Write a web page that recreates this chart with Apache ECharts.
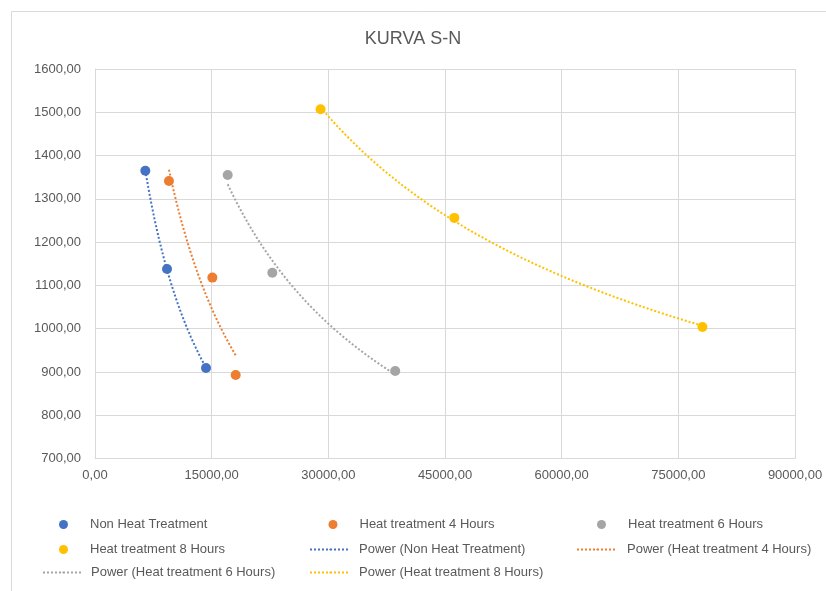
<!DOCTYPE html>
<html><head><meta charset="utf-8">
<script src="https://cdn.jsdelivr.net/npm/echarts@6/dist/echarts.min.js"></script>
<style>html,body{margin:0;padding:0;background:#fff}#c{width:826px;height:591px}</style>
</head><body><div id="c"></div>
<script>
// Data
const seriesNames = ['Non Heat Treatment','Heat treatment 4 Hours','Heat treatment 6 Hours','Heat treatment 8 Hours'];
const nonHeatX = [6470, 9260, 14270];
const nonHeatY = [1365, 1138, 909];
const heat4X = [9510, 15090, 18090];
const heat4Y = [1341, 1118, 893];
const heat6X = [17060, 22800, 38600];
const heat6Y = [1355, 1129, 902];
const heat8X = [29000, 46200, 78100];
const heat8Y = [1507, 1256, 1004];
const xTicks = [0, 15000, 30000, 45000, 60000, 75000, 90000];
const yTicks = [700, 800, 900, 1000, 1100, 1200, 1300, 1400, 1500, 1600];
const colors = ['#4472C4','#ED7D31','#A5A5A5','#FFC000'];

const allX = [nonHeatX, heat4X, heat6X, heat8X];
const allY = [nonHeatY, heat4Y, heat6Y, heat8Y];

// Power trendline (least squares in log-log space, as Excel does)
function powerFit(xs, ys){
  const n = xs.length;
  const lx = xs.map(Math.log), ly = ys.map(Math.log);
  const mx = lx.reduce((a,b)=>a+b,0)/n, my = ly.reduce((a,b)=>a+b,0)/n;
  let sxy=0, sxx=0;
  for(let i=0;i<n;i++){ sxy+=(lx[i]-mx)*(ly[i]-my); sxx+=(lx[i]-mx)*(lx[i]-mx); }
  const b = sxy/sxx, a = Math.exp(my - b*mx);
  const x0 = Math.min(...xs), x1 = Math.max(...xs);
  const pts = [];
  const N = 60;
  for(let i=0;i<=N;i++){ const x = x0 + (x1-x0)*i/N; pts.push([x, a*Math.pow(x,b)]); }
  return pts;
}

const fmt = v => v.toFixed(2).replace('.', ',');
const font = '"Liberation Sans", Arial, sans-serif';
const txt = '#595959';

const series = [];
seriesNames.forEach((nm,i)=>{
  series.push({
    name: nm, type:'scatter', symbol:'circle', symbolSize:10,
    itemStyle:{color:colors[i], opacity:1},
    data: allX[i].map((x,j)=>[x, allY[i][j]]), z:3
  });
});
seriesNames.forEach((nm,i)=>{
  series.push({
    name: 'Power (' + nm + ')', type:'line', symbol:'none', smooth:false,
    lineStyle:{color:colors[i], width:2, type:[2,2]},
    itemStyle:{color:colors[i]},
    data: powerFit(allX[i], allY[i]), z:2
  });
});

// legend layout (positions only)
const legendPos = [
  {name:seriesNames[0], left:59, top:518, pad:17},
  {name:seriesNames[1], left:328.5, top:518, pad:17},
  {name:seriesNames[2], left:597, top:518, pad:17},
  {name:seriesNames[3], left:59, top:543, pad:17},
  {name:'Power (' + seriesNames[0] + ')', left:309, top:543, pad:4},
  {name:'Power (' + seriesNames[1] + ')', left:576, top:543, pad:5},
  {name:'Power (' + seriesNames[2] + ')', left:42, top:566, pad:3},
  {name:'Power (' + seriesNames[3] + ')', left:309, top:566, pad:4}
];
const legends = legendPos.map((p,i)=>{
  const isLine = i >= 4;
  return {
    data:[p.name], left:p.left, top:p.top, orient:'horizontal', padding:0,
    itemWidth: isLine ? 40 : 9, itemHeight: isLine ? 2 : 9, itemGap: 8,
    icon: isLine ? undefined : 'circle',
    textStyle:{color:txt, fontSize:13, fontFamily:font, padding:[0,0,0,p.pad]},
    selectedMode:false
  };
});

const chart = echarts.init(document.getElementById('c'), null, {renderer:'canvas'});
chart.setOption({
  animation:false,
  backgroundColor:'#fff',
  title:{text:'KURVA S-N', left:'center', top:25, textStyle:{color:txt, fontSize:18, fontWeight:'normal', fontFamily:font}},
  graphic:[{type:'rect', shape:{x:11.5,y:11.5,width:900,height:700}, style:{fill:'none', stroke:'#d9d9d9', lineWidth:1}, silent:true}],
  grid:{left:95, right:31, top:69, bottom:132.5, containLabel:false},
  legend: legends,
  xAxis:{type:'value', min:xTicks[0], max:xTicks[xTicks.length-1], interval:15000,
    axisLine:{show:true, lineStyle:{color:'#d9d9d9'}}, axisTick:{show:false},
    splitLine:{show:true, lineStyle:{color:'#d9d9d9', width:1}},
    axisLabel:{color:txt, fontSize:13, fontFamily:font, margin:10, formatter:fmt}},
  yAxis:{type:'value', min:yTicks[0], max:yTicks[yTicks.length-1], interval:100,
    axisLine:{show:true, lineStyle:{color:'#d9d9d9'}}, axisTick:{show:false},
    splitLine:{show:true, lineStyle:{color:'#d9d9d9', width:1}},
    axisLabel:{color:txt, fontSize:13, fontFamily:font, margin:14, formatter:fmt}},
  series: series
});
</script></body></html>
